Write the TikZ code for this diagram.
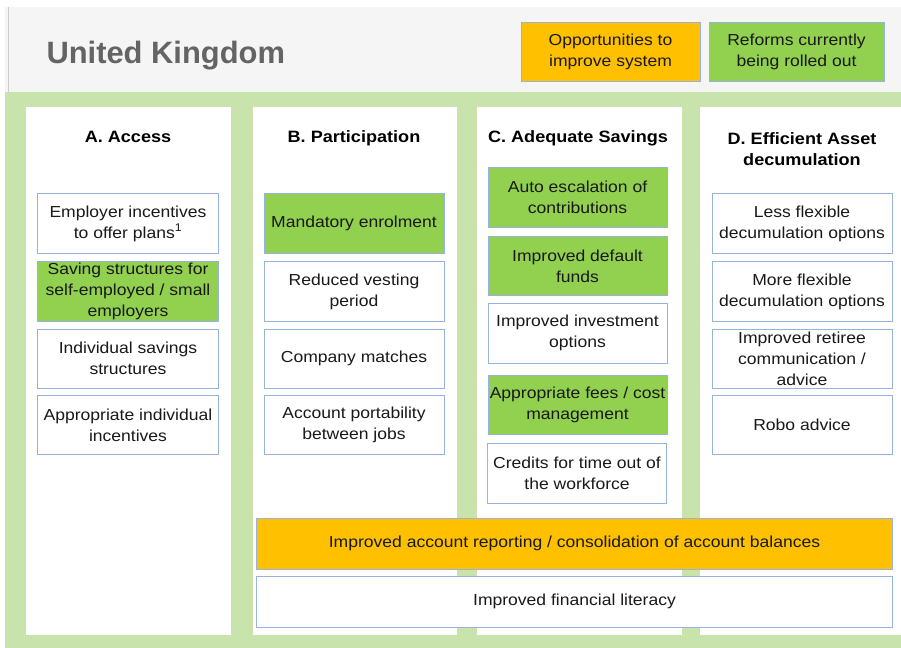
\documentclass[tikz,border=0pt]{standalone}
\usepackage{fontspec}
\setmainfont{Liberation Sans}
\newfontfamily\boxfont{Liberation Sans}[FakeStretch=1.1]
\definecolor{framegreen}{RGB}{200,228,172}
\definecolor{reformgreen}{RGB}{146,208,80}
\definecolor{opporange}{RGB}{255,192,0}
\definecolor{boxline}{RGB}{150,178,222}
\definecolor{headgray}{RGB}{245,245,245}
\definecolor{titlegray}{RGB}{100,100,100}
\definecolor{boxtext}{RGB}{25,25,25}
\begin{document}
\begin{tikzpicture}[x=1bp,y=-1bp,
  item/.style={draw=boxline,line width=1bp,fill=white,align=center,inner sep=1bp,
    minimum width=180bp,minimum height=59bp,text=boxtext,
    font=\boxfont\fontsize{16}{21}\selectfont},
  reform/.style={item,fill=reformgreen},
  opportunity/.style={item,fill=opporange},
  wide/.style={minimum width=635bp,minimum height=51bp},
  coltitle/.style={align=center,text=black,
    font=\boxfont\fontsize{16.5}{21}\selectfont\bfseries}]
\useasboundingbox (0,0) rectangle (901,648);
%%
% Background: header and frame
\fill[headgray] (5,7) rectangle (901,92);
\draw[black!20] (8,7) -- (8,92);
\fill[framegreen] (5,92) rectangle (901,648);
\fill[white] (26,107) rectangle (231,635);
\fill[white] (253,107) rectangle (457,635);
\fill[white] (477,107) rectangle (682,635);
\fill[white] (700,107) rectangle (901,635);
%
% Node: country
\node[anchor=west,text=titlegray,font=\fontsize{31}{34}\selectfont\bfseries]
  (country) at (43,56) {United Kingdom};
% Node: legend_opp
\node[opportunity,minimum width=179bp] (legopp) at (610.5,52) {Opportunities to\\improve system};
% Node: legend_ref
\node[reform,minimum width=175bp] (legref) at (796.5,52) {Reforms currently\\being rolled out};
%
% Column titles
\node[coltitle] (tA) at (128,137) {A. Access};
\node[coltitle] (tB) at (354,138) {B. Participation};
\node[coltitle] (tC) at (578,138) {C. Adequate Savings};
\node[coltitle] (tD) at (802,149) {D. Efficient Asset\\decumulation};
%
% Column A
\node[item] (a1) at (128,223.5) {Employer incentives\\to offer plans\textsuperscript{1}};
\node[reform] (a2) at (128,291.5) {Saving structures for\\self-employed / small\\employers};
\node[item] (a3) at (128,358.5) {Individual savings\\structures};
\node[item] (a4) at (128,425) {Appropriate individual\\incentives};
%
% Column B
\node[reform] (b1) at (354,223.5) {Mandatory enrolment};
\node[item] (b2) at (354,291.5) {Reduced vesting\\period};
\node[item] (b3) at (354,358.5) {Company matches};
\node[item] (b4) at (354,425) {Account portability\\between jobs};
%
% Column C
\node[reform,minimum width=179bp] (c1) at (577.5,197.5) {Auto escalation of\\contributions};
\node[reform,minimum width=179bp,minimum height=58bp] (c2) at (577.5,266) {Improved default\\funds};
\node[item,minimum width=179bp,minimum height=60bp] (c3) at (577.5,333) {Improved investment\\options};
\node[reform,minimum width=179bp] (c4) at (577.5,404.5) {Appropriate fees / cost\\management};
\node[item,minimum width=179bp,minimum height=60bp] (c5) at (577,473) {Credits for time out of\\the workforce};
%
% Column D
\node[item] (d1) at (802,223.5) {Less flexible\\decumulation options};
\node[item] (d2) at (802,291.5) {More flexible\\decumulation options};
\node[item] (d3) at (802,358.5) {Improved retiree\\communication /\\advice};
\node[item] (d4) at (802,425) {Robo advice};
%
% Spanning rows
\node[opportunity,wide] (reporting) at (574.5,543.5) {Improved account reporting / consolidation of account balances};
\node[item,wide] (literacy) at (574.5,601.5) {Improved financial literacy};
%
\end{tikzpicture}
\end{document}
